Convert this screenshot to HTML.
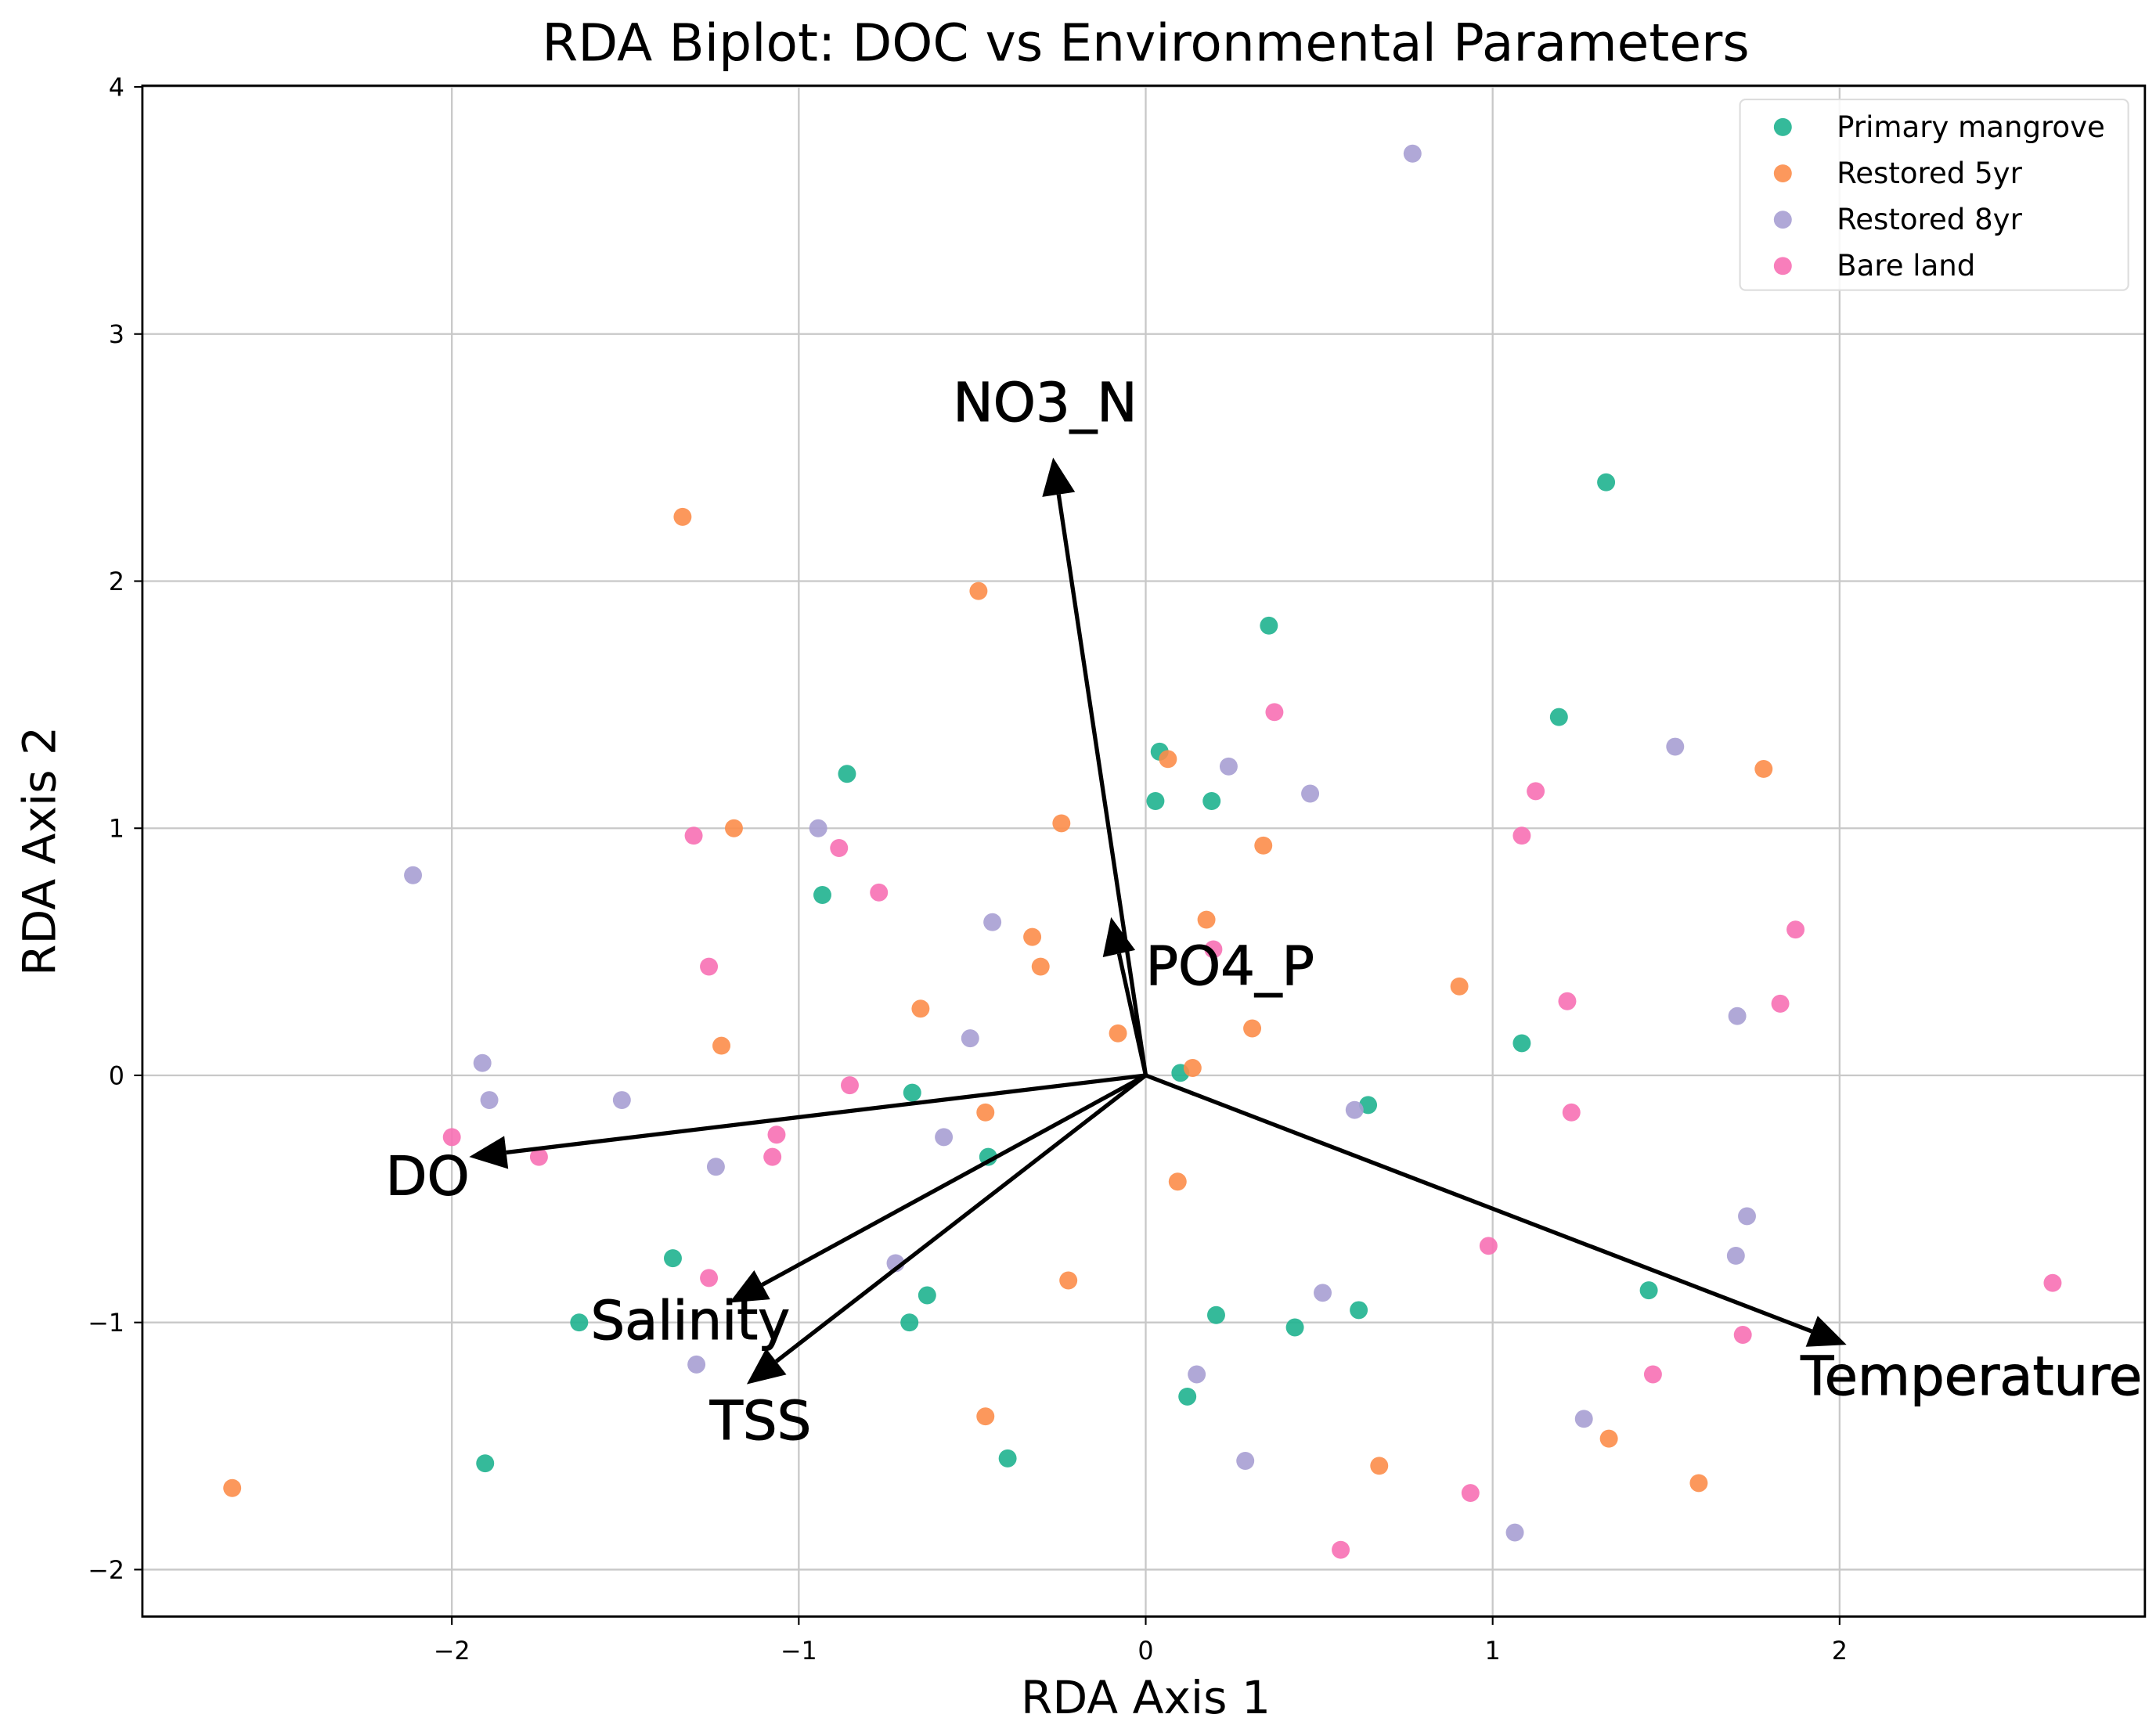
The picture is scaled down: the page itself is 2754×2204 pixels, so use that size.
<!DOCTYPE html>
<html><head><meta charset="utf-8"><style>
html,body{margin:0;padding:0;background:#fff;}
svg{display:block;font-family:"DejaVu Sans","Liberation Sans",sans-serif;}
</style></head><body>
<svg id="chart" width="2754" height="2204" viewBox="0 0 1560 1248.5" xmlns="http://www.w3.org/2000/svg">
<rect width="1560" height="1248.5" fill="#fff"/>
<text x="829" y="44" font-size="37.5" text-anchor="middle" fill="#000">RDA Biplot: DOC vs Environmental Parameters</text>
<g id="grid"></g><g id="ticks"></g><g id="points"></g><g id="arrows"></g>
<rect x="103" y="62" width="1449" height="1108" fill="none" stroke="#000" stroke-width="1.6"/>
<text x="829" y="1240" font-size="33" text-anchor="middle">RDA Axis 1</text>
<text transform="translate(40,616) rotate(-90)" font-size="33" text-anchor="middle">RDA Axis 2</text>
<g>
<rect x="1259" y="72" width="281" height="138" rx="4" fill="#fff" fill-opacity="0.85" stroke="#ddd" stroke-width="1.2"/>
<g id="legend-items"></g>
</g>
</svg>
<script>
const groupNames=["Primary mangrove","Restored 5yr","Restored 8yr","Bare land"];
const groupColors=["#1fb38f","#fc8d4a","#a79fd3","#f770b4"];
const pmX=[1.327,0.355,-0.861,1.191,0.04,0.028,0.19,-0.932,1.084,0.10,-0.673,0.641,-0.454,-1.363,-0.63,1.45,-1.633,-0.681,0.203,0.43,0.614,0.12,-1.904,-0.398];
const pmY=[2.40,1.82,1.22,1.45,1.31,1.11,1.11,0.73,0.13,0.01,-0.07,-0.12,-0.33,-0.74,-0.89,-0.87,-1.0,-1.0,-0.97,-1.02,-0.95,-1.30,-1.57,-1.55];
const r5X=[-1.335,-0.482,-1.187,-0.243,0.064,0.339,1.781,0.175,-0.327,-0.303,-0.649,-1.223,-0.08,0.307,0.904,0.135,-0.462,0.092,-0.223,-0.462,-2.633,0.673,1.335,1.594];
const r5Y=[2.26,1.96,1.0,1.02,1.28,0.93,1.24,0.63,0.56,0.44,0.27,0.12,0.17,0.19,0.36,0.03,-0.15,-0.43,-0.83,-1.38,-1.67,-1.58,-1.47,-1.65];
const r8X=[0.769,-2.112,-0.944,0.239,0.474,1.526,-0.442,-0.506,-1.912,-1.892,-1.51,-0.582,-1.239,0.602,1.705,1.733,1.701,-0.721,0.51,0.147,-1.295,0.287,1.263,1.064];
const r8Y=[3.73,0.81,1.0,1.25,1.14,1.33,0.62,0.15,0.05,-0.10,-0.10,-0.25,-0.37,-0.14,0.24,-0.57,-0.73,-0.76,-0.88,-1.21,-1.17,-1.56,-1.39,-1.85];
const blX=[0.371,1.124,1.084,-1.303,-0.884,-0.769,-1.259,0.195,1.873,1.215,1.829,-0.853,-2.0,-1.749,-1.064,-1.076,1.227,0.988,-1.259,2.614,1.721,1.462,0.936,0.562];
const blY=[1.47,1.15,0.97,0.97,0.92,0.74,0.44,0.51,0.59,0.30,0.29,-0.04,-0.25,-0.33,-0.24,-0.33,-0.15,-0.69,-0.82,-0.84,-1.05,-1.21,-1.69,-1.92];
const arrowNames=["NO3_N","PO4_P","DO","Salinity","TSS","Temperature"];
const arrowX=[-0.267,-0.10,-1.95,-1.20,-1.15,2.02];
const arrowY=[2.50,0.64,-0.33,-0.92,-1.25,-1.09];
const xTicks=[-2,-1,0,1,2];
const yTicks=[-2,-1,0,1,2,3,4];
const xTickLabels=["−2","−1","0","1","2"];
const yTickLabels=["−2","−1","0","1","2","3","4"];

const L=103,R=1552,T=62,B=1170;
const xMin=-2.892,xMax=2.88,yMin=-2.19,yMax=4.005;
const sx=v=>L+(v-xMin)/(xMax-xMin)*(R-L);
const sy=v=>B-(v-yMin)/(yMax-yMin)*(B-T);
const NS="http://www.w3.org/2000/svg";
function mk(tag,attrs,parent){const e=document.createElementNS(NS,tag);for(const k in attrs)e.setAttribute(k,attrs[k]);parent.appendChild(e);return e;}
const grid=document.getElementById('grid'),ticks=document.getElementById('ticks');
xTicks.forEach((v,i)=>{
  const g=mk('line',{x1:sx(v),x2:sx(v),y1:T,y2:B,stroke:'#c8c8c8','stroke-width':1.3},grid);
  
  
  mk('line',{x1:sx(v),x2:sx(v),y1:B,y2:B+6,stroke:'#000','stroke-width':1.2},ticks);
  const t=mk('text',{x:sx(v),y:B+31,'font-size':18,'text-anchor':'middle'},ticks);
  t.textContent=xTickLabels[i];
  
  
});
yTicks.forEach((v,i)=>{
  const g=mk('line',{x1:L,x2:R,y1:sy(v),y2:sy(v),stroke:'#c8c8c8','stroke-width':1.3},grid);
  
  
  mk('line',{x1:L-6,x2:L,y1:sy(v),y2:sy(v),stroke:'#000','stroke-width':1.2},ticks);
  const t=mk('text',{x:L-13,y:sy(v)+6.5,'font-size':18,'text-anchor':'end'},ticks);
  t.textContent=yTickLabels[i];
  
  
});
const pts=document.getElementById('points');
[[pmX,pmY],[r5X,r5Y],[r8X,r8Y],[blX,blY]].forEach((s,gi)=>{
  s[0].forEach((x,i)=>{
    const c=mk('circle',{cx:sx(x),cy:sy(s[1][i]),r:6.5,fill:groupColors[gi],'fill-opacity':0.9},pts);
    
    
  });
});
const arr=document.getElementById('arrows');
const ox=sx(0),oy=sy(0);
const labelDX=[-0.29,0.0,-2.07,-1.6,-1.11,2.38];
const labelDY=[2.72,0.44,-0.41,-0.995,-1.40,-1.22];
const anchors=["middle","start","middle","start","middle","middle"];
arrowNames.forEach((n,i)=>{
  const tx=sx(arrowX[i]),ty=sy(arrowY[i]);
  const dx=tx-ox,dy=ty-oy,len=Math.hypot(dx,dy),ux=dx/len,uy=dy/len;
  const hl=27,hw=12;
  const bx=tx-ux*hl,by=ty-uy*hl;
  const ln=mk('line',{x1:ox,y1:oy,x2:bx,y2:by,stroke:'#000','stroke-width':3},arr);
  
  
  mk('polygon',{points:`${tx},${ty} ${bx-uy*hw},${by+ux*hw} ${bx+uy*hw},${by-ux*hw}`,fill:'#000'},arr);
  const t=mk('text',{x:sx(labelDX[i]),y:sy(labelDY[i])+13,'font-size':39,'text-anchor':anchors[i],stroke:'#000','stroke-width':0.6},arr);
  t.textContent=n;
  
  
});
const li=document.getElementById('legend-items');
groupNames.forEach((n,i)=>{
  const y=92+i*33.5;
  const c=mk('circle',{cx:1290,cy:y,r:6.5,fill:groupColors[i],'fill-opacity':0.9},li);
  
  
  const t=mk('text',{x:1329,y:y+7,'font-size':21},li);
  t.textContent=n;
  
  
});
</script>
</body></html>
